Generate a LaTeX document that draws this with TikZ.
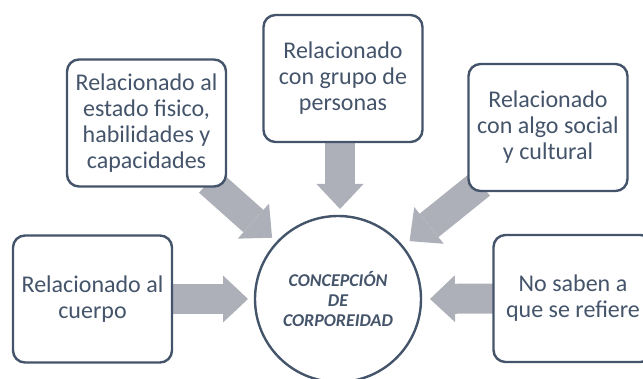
\documentclass[tikz,border=0pt]{standalone}
\usepackage{fontspec}
\setmainfont{Carlito}
\usetikzlibrary{arrows.meta,calc}
\definecolor{slate}{HTML}{44546A}
\definecolor{arrowgray}{HTML}{ADB0B8}
\pgfdeclarelayer{back}
\pgfsetlayers{back,main}
\tikzset{
	ideabox/.style={draw=slate, line width=2.4pt, rounded corners=12pt, fill=white,
		minimum width=159pt, minimum height=127pt, inner sep=0pt, outer sep=0pt,
		align=center, text=slate, font=\fontsize{24}{26}\selectfont},
	centrebox/.style={circle, draw=slate, line width=2.4pt, fill=white,
		minimum size=166pt, inner sep=0pt, outer sep=0pt, align=center, text=slate,
		font=\fontsize{18}{20}\selectfont\bfseries\itshape},
	bigarrow/.style={draw=arrowgray, line width=30pt,
		-{Triangle[width=47pt,length=25pt,line width=0pt]}}
}

\begin{document}
\begin{tikzpicture}[x=1pt,y=-1pt]
		\useasboundingbox (0,0) rectangle (643,379);
		%\draw[help lines,step=50] (0,0) grid (643,379);
		
		\node[centrebox] (concepcion) at (338,299) {CONCEPCIÓN\\DE\\CORPOREIDAD};
		
		\node[ideabox] (cuerpo) at (92.5,299) {Relacionado al\\cuerpo};%left
		\node[ideabox] (fisico) at (146.5,123) {Relacionado al\\estado fisico,\\habilidades y\\capacidades};
		\node[ideabox] (grupo) at (343,78.5) {Relacionado\\con grupo de\\personas};%top
		\node[ideabox] (social) at (548,127.5) {Relacionado\\con algo social\\y cultural};
		\node[ideabox] (nosabe) at (573,298.5) {No saben a\\que se refiere};%right, cut off
		
		\begin{pgfonlayer}{back}
		\draw[bigarrow, shorten >=7pt] (cuerpo.east) -- (concepcion.west);
		\draw[bigarrow, shorten >=9pt] (nosabe.west) -- (concepcion.east);
		\draw[bigarrow, shorten >=7pt] ([xshift=-3pt]grupo.south) -- ([xshift=-3pt]grupo.south |- concepcion.north);
		\draw[bigarrow, shorten >=7pt] ([xshift=-17pt,yshift=5pt]fisico.south east) -- (concepcion.137);
		\draw[bigarrow, shorten >=9pt] ([xshift=12pt,yshift=7pt]social.south west) -- (concepcion.39);
		\end{pgfonlayer}
\end{tikzpicture}
\end{document}
